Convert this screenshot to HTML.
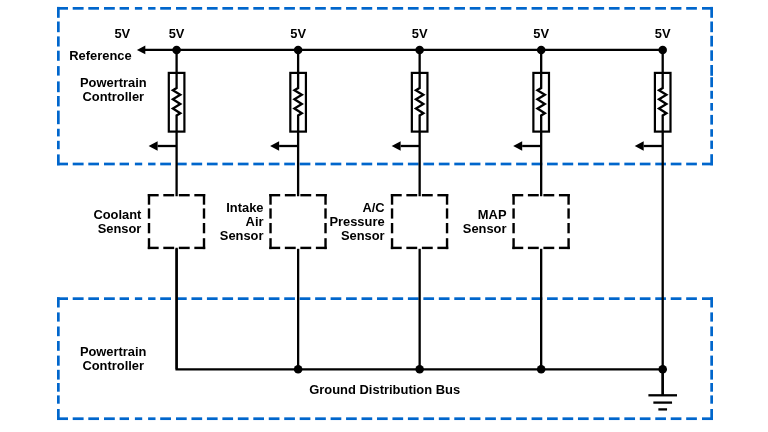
<!DOCTYPE html>
<html><head><meta charset="utf-8"><style>
html,body{margin:0;padding:0;background:#fff;width:768px;height:432px;overflow:hidden;position:relative}
</style></head><body>
<svg width="768" height="432" viewBox="0 0 768 432" style="position:absolute;left:0;top:0;will-change:transform;-webkit-font-smoothing:antialiased">
<rect width="768" height="432" fill="#fff"/>
<rect x="57.00" y="7.00" width="11.00" height="2.7" fill="#0066CC"/>
<rect x="72.70" y="7.00" width="10.90" height="2.7" fill="#0066CC"/>
<rect x="88.30" y="7.00" width="10.70" height="2.7" fill="#0066CC"/>
<rect x="104.00" y="7.00" width="10.80" height="2.7" fill="#0066CC"/>
<rect x="119.60" y="7.00" width="9.40" height="2.7" fill="#0066CC"/>
<rect x="134.90" y="7.00" width="7.30" height="2.7" fill="#0066CC"/>
<rect x="148.10" y="7.00" width="7.40" height="2.7" fill="#0066CC"/>
<rect x="160.20" y="7.00" width="10.80" height="2.7" fill="#0066CC"/>
<rect x="176.00" y="7.00" width="10.70" height="2.7" fill="#0066CC"/>
<rect x="191.46" y="7.00" width="10.70" height="2.7" fill="#0066CC"/>
<rect x="206.92" y="7.00" width="10.70" height="2.7" fill="#0066CC"/>
<rect x="222.38" y="7.00" width="10.70" height="2.7" fill="#0066CC"/>
<rect x="237.84" y="7.00" width="10.70" height="2.7" fill="#0066CC"/>
<rect x="253.30" y="7.00" width="10.70" height="2.7" fill="#0066CC"/>
<rect x="268.76" y="7.00" width="10.70" height="2.7" fill="#0066CC"/>
<rect x="284.22" y="7.00" width="10.70" height="2.7" fill="#0066CC"/>
<rect x="299.68" y="7.00" width="10.70" height="2.7" fill="#0066CC"/>
<rect x="315.14" y="7.00" width="10.70" height="2.7" fill="#0066CC"/>
<rect x="330.60" y="7.00" width="10.70" height="2.7" fill="#0066CC"/>
<rect x="346.06" y="7.00" width="10.70" height="2.7" fill="#0066CC"/>
<rect x="361.52" y="7.00" width="10.70" height="2.7" fill="#0066CC"/>
<rect x="376.98" y="7.00" width="10.70" height="2.7" fill="#0066CC"/>
<rect x="392.44" y="7.00" width="10.70" height="2.7" fill="#0066CC"/>
<rect x="407.90" y="7.00" width="10.70" height="2.7" fill="#0066CC"/>
<rect x="423.36" y="7.00" width="10.70" height="2.7" fill="#0066CC"/>
<rect x="438.82" y="7.00" width="10.70" height="2.7" fill="#0066CC"/>
<rect x="454.28" y="7.00" width="10.70" height="2.7" fill="#0066CC"/>
<rect x="469.74" y="7.00" width="10.70" height="2.7" fill="#0066CC"/>
<rect x="485.20" y="7.00" width="10.70" height="2.7" fill="#0066CC"/>
<rect x="500.66" y="7.00" width="10.70" height="2.7" fill="#0066CC"/>
<rect x="516.12" y="7.00" width="10.70" height="2.7" fill="#0066CC"/>
<rect x="531.58" y="7.00" width="10.70" height="2.7" fill="#0066CC"/>
<rect x="547.04" y="7.00" width="10.70" height="2.7" fill="#0066CC"/>
<rect x="562.50" y="7.00" width="10.70" height="2.7" fill="#0066CC"/>
<rect x="577.96" y="7.00" width="10.70" height="2.7" fill="#0066CC"/>
<rect x="593.42" y="7.00" width="10.70" height="2.7" fill="#0066CC"/>
<rect x="608.88" y="7.00" width="10.70" height="2.7" fill="#0066CC"/>
<rect x="624.34" y="7.00" width="10.70" height="2.7" fill="#0066CC"/>
<rect x="639.80" y="7.00" width="10.70" height="2.7" fill="#0066CC"/>
<rect x="655.26" y="7.00" width="10.70" height="2.7" fill="#0066CC"/>
<rect x="670.72" y="7.00" width="10.70" height="2.7" fill="#0066CC"/>
<rect x="686.18" y="7.00" width="10.70" height="2.7" fill="#0066CC"/>
<rect x="702.00" y="7.00" width="11.00" height="2.7" fill="#0066CC"/>
<rect x="57.00" y="162.65" width="11.00" height="2.7" fill="#0066CC"/>
<rect x="72.70" y="162.65" width="10.90" height="2.7" fill="#0066CC"/>
<rect x="88.30" y="162.65" width="10.70" height="2.7" fill="#0066CC"/>
<rect x="104.00" y="162.65" width="10.80" height="2.7" fill="#0066CC"/>
<rect x="119.60" y="162.65" width="9.40" height="2.7" fill="#0066CC"/>
<rect x="134.90" y="162.65" width="7.30" height="2.7" fill="#0066CC"/>
<rect x="148.10" y="162.65" width="7.40" height="2.7" fill="#0066CC"/>
<rect x="160.20" y="162.65" width="10.80" height="2.7" fill="#0066CC"/>
<rect x="176.00" y="162.65" width="10.70" height="2.7" fill="#0066CC"/>
<rect x="191.46" y="162.65" width="10.70" height="2.7" fill="#0066CC"/>
<rect x="206.92" y="162.65" width="10.70" height="2.7" fill="#0066CC"/>
<rect x="222.38" y="162.65" width="10.70" height="2.7" fill="#0066CC"/>
<rect x="237.84" y="162.65" width="10.70" height="2.7" fill="#0066CC"/>
<rect x="253.30" y="162.65" width="10.70" height="2.7" fill="#0066CC"/>
<rect x="268.76" y="162.65" width="10.70" height="2.7" fill="#0066CC"/>
<rect x="284.22" y="162.65" width="10.70" height="2.7" fill="#0066CC"/>
<rect x="299.68" y="162.65" width="10.70" height="2.7" fill="#0066CC"/>
<rect x="315.14" y="162.65" width="10.70" height="2.7" fill="#0066CC"/>
<rect x="330.60" y="162.65" width="10.70" height="2.7" fill="#0066CC"/>
<rect x="346.06" y="162.65" width="10.70" height="2.7" fill="#0066CC"/>
<rect x="361.52" y="162.65" width="10.70" height="2.7" fill="#0066CC"/>
<rect x="376.98" y="162.65" width="10.70" height="2.7" fill="#0066CC"/>
<rect x="392.44" y="162.65" width="10.70" height="2.7" fill="#0066CC"/>
<rect x="407.90" y="162.65" width="10.70" height="2.7" fill="#0066CC"/>
<rect x="423.36" y="162.65" width="10.70" height="2.7" fill="#0066CC"/>
<rect x="438.82" y="162.65" width="10.70" height="2.7" fill="#0066CC"/>
<rect x="454.28" y="162.65" width="10.70" height="2.7" fill="#0066CC"/>
<rect x="469.74" y="162.65" width="10.70" height="2.7" fill="#0066CC"/>
<rect x="485.20" y="162.65" width="10.70" height="2.7" fill="#0066CC"/>
<rect x="500.66" y="162.65" width="10.70" height="2.7" fill="#0066CC"/>
<rect x="516.12" y="162.65" width="10.70" height="2.7" fill="#0066CC"/>
<rect x="531.58" y="162.65" width="10.70" height="2.7" fill="#0066CC"/>
<rect x="547.04" y="162.65" width="10.70" height="2.7" fill="#0066CC"/>
<rect x="562.50" y="162.65" width="10.70" height="2.7" fill="#0066CC"/>
<rect x="577.96" y="162.65" width="10.70" height="2.7" fill="#0066CC"/>
<rect x="593.42" y="162.65" width="10.70" height="2.7" fill="#0066CC"/>
<rect x="608.88" y="162.65" width="10.70" height="2.7" fill="#0066CC"/>
<rect x="624.34" y="162.65" width="10.70" height="2.7" fill="#0066CC"/>
<rect x="639.80" y="162.65" width="10.70" height="2.7" fill="#0066CC"/>
<rect x="655.26" y="162.65" width="10.70" height="2.7" fill="#0066CC"/>
<rect x="670.72" y="162.65" width="10.70" height="2.7" fill="#0066CC"/>
<rect x="686.18" y="162.65" width="10.70" height="2.7" fill="#0066CC"/>
<rect x="702.00" y="162.65" width="11.00" height="2.7" fill="#0066CC"/>
<rect x="57.00" y="6.90" width="2.7" height="10.90" fill="#0066CC"/>
<rect x="57.00" y="21.50" width="2.7" height="10.70" fill="#0066CC"/>
<rect x="57.00" y="36.40" width="2.7" height="10.10" fill="#0066CC"/>
<rect x="57.00" y="50.70" width="2.7" height="10.10" fill="#0066CC"/>
<rect x="57.00" y="66.10" width="2.7" height="9.50" fill="#0066CC"/>
<rect x="57.00" y="81.40" width="2.7" height="10.80" fill="#0066CC"/>
<rect x="57.00" y="96.00" width="2.7" height="10.40" fill="#0066CC"/>
<rect x="57.00" y="110.60" width="2.7" height="13.60" fill="#0066CC"/>
<rect x="57.00" y="128.75" width="2.7" height="7.65" fill="#0066CC"/>
<rect x="57.00" y="140.80" width="2.7" height="8.40" fill="#0066CC"/>
<rect x="57.00" y="154.40" width="2.7" height="10.90" fill="#0066CC"/>
<rect x="710.30" y="6.90" width="2.7" height="10.90" fill="#0066CC"/>
<rect x="710.30" y="21.50" width="2.7" height="10.70" fill="#0066CC"/>
<rect x="710.30" y="35.80" width="2.7" height="10.70" fill="#0066CC"/>
<rect x="710.30" y="50.30" width="2.7" height="10.50" fill="#0066CC"/>
<rect x="710.30" y="65.00" width="2.7" height="10.80" fill="#0066CC"/>
<rect x="710.30" y="77.20" width="2.7" height="10.00" fill="#0066CC"/>
<rect x="710.30" y="90.80" width="2.7" height="7.95" fill="#0066CC"/>
<rect x="710.30" y="103.00" width="2.7" height="7.60" fill="#0066CC"/>
<rect x="710.30" y="114.90" width="2.7" height="9.70" fill="#0066CC"/>
<rect x="710.30" y="129.20" width="2.7" height="7.50" fill="#0066CC"/>
<rect x="710.30" y="140.60" width="2.7" height="8.30" fill="#0066CC"/>
<rect x="710.30" y="154.20" width="2.7" height="11.10" fill="#0066CC"/>
<rect x="57.00" y="297.30" width="11.00" height="2.7" fill="#0066CC"/>
<rect x="72.70" y="297.30" width="10.90" height="2.7" fill="#0066CC"/>
<rect x="88.30" y="297.30" width="10.70" height="2.7" fill="#0066CC"/>
<rect x="104.00" y="297.30" width="10.80" height="2.7" fill="#0066CC"/>
<rect x="119.60" y="297.30" width="9.40" height="2.7" fill="#0066CC"/>
<rect x="134.90" y="297.30" width="7.30" height="2.7" fill="#0066CC"/>
<rect x="148.10" y="297.30" width="7.40" height="2.7" fill="#0066CC"/>
<rect x="160.20" y="297.30" width="10.80" height="2.7" fill="#0066CC"/>
<rect x="176.00" y="297.30" width="10.70" height="2.7" fill="#0066CC"/>
<rect x="191.46" y="297.30" width="10.70" height="2.7" fill="#0066CC"/>
<rect x="206.92" y="297.30" width="10.70" height="2.7" fill="#0066CC"/>
<rect x="222.38" y="297.30" width="10.70" height="2.7" fill="#0066CC"/>
<rect x="237.84" y="297.30" width="10.70" height="2.7" fill="#0066CC"/>
<rect x="253.30" y="297.30" width="10.70" height="2.7" fill="#0066CC"/>
<rect x="268.76" y="297.30" width="10.70" height="2.7" fill="#0066CC"/>
<rect x="284.22" y="297.30" width="10.70" height="2.7" fill="#0066CC"/>
<rect x="299.68" y="297.30" width="10.70" height="2.7" fill="#0066CC"/>
<rect x="315.14" y="297.30" width="10.70" height="2.7" fill="#0066CC"/>
<rect x="330.60" y="297.30" width="10.70" height="2.7" fill="#0066CC"/>
<rect x="346.06" y="297.30" width="10.70" height="2.7" fill="#0066CC"/>
<rect x="361.52" y="297.30" width="10.70" height="2.7" fill="#0066CC"/>
<rect x="376.98" y="297.30" width="10.70" height="2.7" fill="#0066CC"/>
<rect x="392.44" y="297.30" width="10.70" height="2.7" fill="#0066CC"/>
<rect x="407.90" y="297.30" width="10.70" height="2.7" fill="#0066CC"/>
<rect x="423.36" y="297.30" width="10.70" height="2.7" fill="#0066CC"/>
<rect x="438.82" y="297.30" width="10.70" height="2.7" fill="#0066CC"/>
<rect x="454.28" y="297.30" width="10.70" height="2.7" fill="#0066CC"/>
<rect x="469.74" y="297.30" width="10.70" height="2.7" fill="#0066CC"/>
<rect x="485.20" y="297.30" width="10.70" height="2.7" fill="#0066CC"/>
<rect x="500.66" y="297.30" width="10.70" height="2.7" fill="#0066CC"/>
<rect x="516.12" y="297.30" width="10.70" height="2.7" fill="#0066CC"/>
<rect x="531.58" y="297.30" width="10.70" height="2.7" fill="#0066CC"/>
<rect x="547.04" y="297.30" width="10.70" height="2.7" fill="#0066CC"/>
<rect x="562.50" y="297.30" width="10.70" height="2.7" fill="#0066CC"/>
<rect x="577.96" y="297.30" width="10.70" height="2.7" fill="#0066CC"/>
<rect x="593.42" y="297.30" width="10.70" height="2.7" fill="#0066CC"/>
<rect x="608.88" y="297.30" width="10.70" height="2.7" fill="#0066CC"/>
<rect x="624.34" y="297.30" width="10.70" height="2.7" fill="#0066CC"/>
<rect x="639.80" y="297.30" width="10.70" height="2.7" fill="#0066CC"/>
<rect x="655.26" y="297.30" width="10.70" height="2.7" fill="#0066CC"/>
<rect x="670.72" y="297.30" width="10.70" height="2.7" fill="#0066CC"/>
<rect x="686.18" y="297.30" width="10.70" height="2.7" fill="#0066CC"/>
<rect x="702.00" y="297.30" width="11.00" height="2.7" fill="#0066CC"/>
<rect x="57.00" y="417.35" width="11.00" height="2.7" fill="#0066CC"/>
<rect x="72.70" y="417.35" width="10.90" height="2.7" fill="#0066CC"/>
<rect x="88.30" y="417.35" width="10.70" height="2.7" fill="#0066CC"/>
<rect x="104.00" y="417.35" width="10.80" height="2.7" fill="#0066CC"/>
<rect x="119.60" y="417.35" width="9.40" height="2.7" fill="#0066CC"/>
<rect x="134.90" y="417.35" width="7.30" height="2.7" fill="#0066CC"/>
<rect x="148.10" y="417.35" width="7.40" height="2.7" fill="#0066CC"/>
<rect x="160.20" y="417.35" width="10.80" height="2.7" fill="#0066CC"/>
<rect x="176.00" y="417.35" width="10.70" height="2.7" fill="#0066CC"/>
<rect x="191.46" y="417.35" width="10.70" height="2.7" fill="#0066CC"/>
<rect x="206.92" y="417.35" width="10.70" height="2.7" fill="#0066CC"/>
<rect x="222.38" y="417.35" width="10.70" height="2.7" fill="#0066CC"/>
<rect x="237.84" y="417.35" width="10.70" height="2.7" fill="#0066CC"/>
<rect x="253.30" y="417.35" width="10.70" height="2.7" fill="#0066CC"/>
<rect x="268.76" y="417.35" width="10.70" height="2.7" fill="#0066CC"/>
<rect x="284.22" y="417.35" width="10.70" height="2.7" fill="#0066CC"/>
<rect x="299.68" y="417.35" width="10.70" height="2.7" fill="#0066CC"/>
<rect x="315.14" y="417.35" width="10.70" height="2.7" fill="#0066CC"/>
<rect x="330.60" y="417.35" width="10.70" height="2.7" fill="#0066CC"/>
<rect x="346.06" y="417.35" width="10.70" height="2.7" fill="#0066CC"/>
<rect x="361.52" y="417.35" width="10.70" height="2.7" fill="#0066CC"/>
<rect x="376.98" y="417.35" width="10.70" height="2.7" fill="#0066CC"/>
<rect x="392.44" y="417.35" width="10.70" height="2.7" fill="#0066CC"/>
<rect x="407.90" y="417.35" width="10.70" height="2.7" fill="#0066CC"/>
<rect x="423.36" y="417.35" width="10.70" height="2.7" fill="#0066CC"/>
<rect x="438.82" y="417.35" width="10.70" height="2.7" fill="#0066CC"/>
<rect x="454.28" y="417.35" width="10.70" height="2.7" fill="#0066CC"/>
<rect x="469.74" y="417.35" width="10.70" height="2.7" fill="#0066CC"/>
<rect x="485.20" y="417.35" width="10.70" height="2.7" fill="#0066CC"/>
<rect x="500.66" y="417.35" width="10.70" height="2.7" fill="#0066CC"/>
<rect x="516.12" y="417.35" width="10.70" height="2.7" fill="#0066CC"/>
<rect x="531.58" y="417.35" width="10.70" height="2.7" fill="#0066CC"/>
<rect x="547.04" y="417.35" width="10.70" height="2.7" fill="#0066CC"/>
<rect x="562.50" y="417.35" width="10.70" height="2.7" fill="#0066CC"/>
<rect x="577.96" y="417.35" width="10.70" height="2.7" fill="#0066CC"/>
<rect x="593.42" y="417.35" width="10.70" height="2.7" fill="#0066CC"/>
<rect x="608.88" y="417.35" width="10.70" height="2.7" fill="#0066CC"/>
<rect x="624.34" y="417.35" width="10.70" height="2.7" fill="#0066CC"/>
<rect x="639.80" y="417.35" width="10.70" height="2.7" fill="#0066CC"/>
<rect x="655.26" y="417.35" width="10.70" height="2.7" fill="#0066CC"/>
<rect x="670.72" y="417.35" width="10.70" height="2.7" fill="#0066CC"/>
<rect x="686.18" y="417.35" width="10.70" height="2.7" fill="#0066CC"/>
<rect x="702.00" y="417.35" width="11.00" height="2.7" fill="#0066CC"/>
<rect x="57.00" y="297.30" width="2.7" height="10.20" fill="#0066CC"/>
<rect x="57.00" y="312.40" width="2.7" height="9.20" fill="#0066CC"/>
<rect x="57.00" y="326.50" width="2.7" height="9.70" fill="#0066CC"/>
<rect x="57.00" y="341.00" width="2.7" height="9.80" fill="#0066CC"/>
<rect x="57.00" y="355.60" width="2.7" height="10.10" fill="#0066CC"/>
<rect x="57.00" y="369.80" width="2.7" height="9.80" fill="#0066CC"/>
<rect x="57.00" y="383.00" width="2.7" height="8.70" fill="#0066CC"/>
<rect x="57.00" y="395.40" width="2.7" height="8.30" fill="#0066CC"/>
<rect x="57.00" y="409.00" width="2.7" height="11.00" fill="#0066CC"/>
<rect x="710.30" y="297.30" width="2.7" height="10.20" fill="#0066CC"/>
<rect x="710.30" y="312.40" width="2.7" height="9.20" fill="#0066CC"/>
<rect x="710.30" y="326.50" width="2.7" height="9.70" fill="#0066CC"/>
<rect x="710.30" y="341.00" width="2.7" height="9.80" fill="#0066CC"/>
<rect x="710.30" y="355.60" width="2.7" height="10.10" fill="#0066CC"/>
<rect x="710.30" y="369.80" width="2.7" height="9.80" fill="#0066CC"/>
<rect x="710.30" y="383.00" width="2.7" height="8.70" fill="#0066CC"/>
<rect x="710.30" y="395.40" width="2.7" height="8.30" fill="#0066CC"/>
<rect x="710.30" y="409.00" width="2.7" height="11.00" fill="#0066CC"/>
<line x1="145" y1="49.9" x2="662.7" y2="49.9" stroke="#000" stroke-width="2.3"/>
<polygon points="136.9,49.9 145.3,45.6 145.3,54.199999999999996" fill="#000"/>
<path d="M176.6,248.8 V369.3 H662.7" fill="none" stroke="#000" stroke-width="2.3" stroke-linejoin="miter" stroke-linecap="square"/>
<circle cx="176.6" cy="49.9" r="4.25" fill="#000"/>
<rect x="168.80" y="72.9" width="15.6" height="58.7" fill="none" stroke="#000" stroke-width="2.2"/>
<path d="M176.6,49.9 L176.60,88.00 L172.90,90.20 L180.30,94.70 L172.90,99.30 L180.30,104.00 L172.90,108.60 L180.30,113.20 L176.60,115.40 L176.6,196.2" fill="none" stroke="#000" stroke-width="2.3" stroke-linejoin="miter"/>
<line x1="157.6" y1="146.0" x2="176.6" y2="146.0" stroke="#000" stroke-width="2.3"/>
<polygon points="148.60,146.0 157.60,141.3 157.60,150.7" fill="#000"/>
<rect x="147.80" y="194.00" width="10.86" height="2.4" fill="#000"/>
<rect x="163.31" y="194.00" width="10.86" height="2.4" fill="#000"/>
<rect x="178.83" y="194.00" width="10.86" height="2.4" fill="#000"/>
<rect x="194.34" y="194.00" width="10.86" height="2.4" fill="#000"/>
<rect x="147.80" y="246.70" width="10.86" height="2.4" fill="#000"/>
<rect x="163.31" y="246.70" width="10.86" height="2.4" fill="#000"/>
<rect x="178.83" y="246.70" width="10.86" height="2.4" fill="#000"/>
<rect x="194.34" y="246.70" width="10.86" height="2.4" fill="#000"/>
<rect x="147.80" y="194.00" width="2.4" height="10.70" fill="#000"/>
<rect x="147.80" y="208.40" width="2.4" height="10.20" fill="#000"/>
<rect x="147.80" y="223.00" width="2.4" height="10.30" fill="#000"/>
<rect x="147.80" y="238.20" width="2.4" height="10.90" fill="#000"/>
<rect x="202.80" y="194.00" width="2.4" height="10.70" fill="#000"/>
<rect x="202.80" y="208.40" width="2.4" height="10.20" fill="#000"/>
<rect x="202.80" y="223.00" width="2.4" height="10.30" fill="#000"/>
<rect x="202.80" y="238.20" width="2.4" height="10.90" fill="#000"/>
<line x1="176.6" y1="248.8" x2="176.6" y2="369.3" stroke="#000" stroke-width="2.3"/>
<circle cx="298.125" cy="49.9" r="4.25" fill="#000"/>
<rect x="290.32" y="72.9" width="15.6" height="58.7" fill="none" stroke="#000" stroke-width="2.2"/>
<path d="M298.125,49.9 L298.12,88.00 L294.43,90.20 L301.82,94.70 L294.43,99.30 L301.82,104.00 L294.43,108.60 L301.82,113.20 L298.12,115.40 L298.125,196.2" fill="none" stroke="#000" stroke-width="2.3" stroke-linejoin="miter"/>
<line x1="279.125" y1="146.0" x2="298.125" y2="146.0" stroke="#000" stroke-width="2.3"/>
<polygon points="270.12,146.0 279.12,141.3 279.12,150.7" fill="#000"/>
<rect x="269.32" y="194.00" width="10.86" height="2.4" fill="#000"/>
<rect x="284.84" y="194.00" width="10.86" height="2.4" fill="#000"/>
<rect x="300.35" y="194.00" width="10.86" height="2.4" fill="#000"/>
<rect x="315.87" y="194.00" width="10.86" height="2.4" fill="#000"/>
<rect x="269.32" y="246.70" width="10.86" height="2.4" fill="#000"/>
<rect x="284.84" y="246.70" width="10.86" height="2.4" fill="#000"/>
<rect x="300.35" y="246.70" width="10.86" height="2.4" fill="#000"/>
<rect x="315.87" y="246.70" width="10.86" height="2.4" fill="#000"/>
<rect x="269.32" y="194.00" width="2.4" height="10.70" fill="#000"/>
<rect x="269.32" y="208.40" width="2.4" height="10.20" fill="#000"/>
<rect x="269.32" y="223.00" width="2.4" height="10.30" fill="#000"/>
<rect x="269.32" y="238.20" width="2.4" height="10.90" fill="#000"/>
<rect x="324.32" y="194.00" width="2.4" height="10.70" fill="#000"/>
<rect x="324.32" y="208.40" width="2.4" height="10.20" fill="#000"/>
<rect x="324.32" y="223.00" width="2.4" height="10.30" fill="#000"/>
<rect x="324.32" y="238.20" width="2.4" height="10.90" fill="#000"/>
<line x1="298.125" y1="248.8" x2="298.125" y2="369.3" stroke="#000" stroke-width="2.3"/>
<circle cx="298.125" cy="369.3" r="4.3" fill="#000"/>
<circle cx="419.65" cy="49.9" r="4.25" fill="#000"/>
<rect x="411.85" y="72.9" width="15.6" height="58.7" fill="none" stroke="#000" stroke-width="2.2"/>
<path d="M419.65,49.9 L419.65,88.00 L415.95,90.20 L423.35,94.70 L415.95,99.30 L423.35,104.00 L415.95,108.60 L423.35,113.20 L419.65,115.40 L419.65,196.2" fill="none" stroke="#000" stroke-width="2.3" stroke-linejoin="miter"/>
<line x1="400.65" y1="146.0" x2="419.65" y2="146.0" stroke="#000" stroke-width="2.3"/>
<polygon points="391.65,146.0 400.65,141.3 400.65,150.7" fill="#000"/>
<rect x="390.85" y="194.00" width="10.86" height="2.4" fill="#000"/>
<rect x="406.36" y="194.00" width="10.86" height="2.4" fill="#000"/>
<rect x="421.88" y="194.00" width="10.86" height="2.4" fill="#000"/>
<rect x="437.39" y="194.00" width="10.86" height="2.4" fill="#000"/>
<rect x="390.85" y="246.70" width="10.86" height="2.4" fill="#000"/>
<rect x="406.36" y="246.70" width="10.86" height="2.4" fill="#000"/>
<rect x="421.88" y="246.70" width="10.86" height="2.4" fill="#000"/>
<rect x="437.39" y="246.70" width="10.86" height="2.4" fill="#000"/>
<rect x="390.85" y="194.00" width="2.4" height="10.70" fill="#000"/>
<rect x="390.85" y="208.40" width="2.4" height="10.20" fill="#000"/>
<rect x="390.85" y="223.00" width="2.4" height="10.30" fill="#000"/>
<rect x="390.85" y="238.20" width="2.4" height="10.90" fill="#000"/>
<rect x="445.85" y="194.00" width="2.4" height="10.70" fill="#000"/>
<rect x="445.85" y="208.40" width="2.4" height="10.20" fill="#000"/>
<rect x="445.85" y="223.00" width="2.4" height="10.30" fill="#000"/>
<rect x="445.85" y="238.20" width="2.4" height="10.90" fill="#000"/>
<line x1="419.65" y1="248.8" x2="419.65" y2="369.3" stroke="#000" stroke-width="2.3"/>
<circle cx="419.65" cy="369.3" r="4.3" fill="#000"/>
<circle cx="541.1750000000001" cy="49.9" r="4.25" fill="#000"/>
<rect x="533.38" y="72.9" width="15.6" height="58.7" fill="none" stroke="#000" stroke-width="2.2"/>
<path d="M541.1750000000001,49.9 L541.18,88.00 L537.48,90.20 L544.88,94.70 L537.48,99.30 L544.88,104.00 L537.48,108.60 L544.88,113.20 L541.18,115.40 L541.1750000000001,196.2" fill="none" stroke="#000" stroke-width="2.3" stroke-linejoin="miter"/>
<line x1="522.1750000000001" y1="146.0" x2="541.1750000000001" y2="146.0" stroke="#000" stroke-width="2.3"/>
<polygon points="513.18,146.0 522.18,141.3 522.18,150.7" fill="#000"/>
<rect x="512.38" y="194.00" width="10.86" height="2.4" fill="#000"/>
<rect x="527.89" y="194.00" width="10.86" height="2.4" fill="#000"/>
<rect x="543.40" y="194.00" width="10.86" height="2.4" fill="#000"/>
<rect x="558.92" y="194.00" width="10.86" height="2.4" fill="#000"/>
<rect x="512.38" y="246.70" width="10.86" height="2.4" fill="#000"/>
<rect x="527.89" y="246.70" width="10.86" height="2.4" fill="#000"/>
<rect x="543.40" y="246.70" width="10.86" height="2.4" fill="#000"/>
<rect x="558.92" y="246.70" width="10.86" height="2.4" fill="#000"/>
<rect x="512.38" y="194.00" width="2.4" height="10.70" fill="#000"/>
<rect x="512.38" y="208.40" width="2.4" height="10.20" fill="#000"/>
<rect x="512.38" y="223.00" width="2.4" height="10.30" fill="#000"/>
<rect x="512.38" y="238.20" width="2.4" height="10.90" fill="#000"/>
<rect x="567.38" y="194.00" width="2.4" height="10.70" fill="#000"/>
<rect x="567.38" y="208.40" width="2.4" height="10.20" fill="#000"/>
<rect x="567.38" y="223.00" width="2.4" height="10.30" fill="#000"/>
<rect x="567.38" y="238.20" width="2.4" height="10.90" fill="#000"/>
<line x1="541.1750000000001" y1="248.8" x2="541.1750000000001" y2="369.3" stroke="#000" stroke-width="2.3"/>
<circle cx="541.1750000000001" cy="369.3" r="4.3" fill="#000"/>
<circle cx="662.7" cy="49.9" r="4.25" fill="#000"/>
<rect x="654.90" y="72.9" width="15.6" height="58.7" fill="none" stroke="#000" stroke-width="2.2"/>
<path d="M662.7,49.9 L662.70,88.00 L659.00,90.20 L666.40,94.70 L659.00,99.30 L666.40,104.00 L659.00,108.60 L666.40,113.20 L662.70,115.40 L662.7,395.3" fill="none" stroke="#000" stroke-width="2.3" stroke-linejoin="miter"/>
<line x1="643.7" y1="146.0" x2="662.7" y2="146.0" stroke="#000" stroke-width="2.3"/>
<polygon points="634.70,146.0 643.70,141.3 643.70,150.7" fill="#000"/>
<circle cx="662.7" cy="369.3" r="4.3" fill="#000"/>
<line x1="662.7" y1="369.3" x2="662.7" y2="395.3" stroke="#000" stroke-width="2.3"/>
<line x1="648.40" y1="395.3" x2="677.00" y2="395.3" stroke="#000" stroke-width="2.3"/>
<line x1="653.35" y1="402.6" x2="672.05" y2="402.6" stroke="#000" stroke-width="2.3"/>
<line x1="658.35" y1="409.4" x2="667.05" y2="409.4" stroke="#000" stroke-width="2.3"/>
<g font-family="Liberation Sans, sans-serif" font-weight="bold" font-size="12.9" fill="#000">
<text x="130.2" y="38" text-anchor="end">5V</text>
<text x="176.6" y="38" text-anchor="middle">5V</text>
<text x="298.125" y="38" text-anchor="middle">5V</text>
<text x="419.65" y="38" text-anchor="middle">5V</text>
<text x="541.1750000000001" y="38" text-anchor="middle">5V</text>
<text x="662.7" y="38" text-anchor="middle">5V</text>
<text x="131.6" y="60.1" text-anchor="end">Reference</text>
<text x="113.3" y="86.8" text-anchor="middle">Powertrain</text>
<text x="113.3" y="101.2" text-anchor="middle">Controller</text>
<text x="141.4" y="218.5" text-anchor="end">Coolant</text>
<text x="141.4" y="232.9" text-anchor="end">Sensor</text>
<text x="263.5" y="211.5" text-anchor="end">Intake</text>
<text x="263.5" y="225.6" text-anchor="end">Air</text>
<text x="263.5" y="239.7" text-anchor="end">Sensor</text>
<text x="384.6" y="211.5" text-anchor="end">A/C</text>
<text x="384.6" y="225.6" text-anchor="end">Pressure</text>
<text x="384.6" y="240.1" text-anchor="end">Sensor</text>
<text x="506.5" y="218.8" text-anchor="end">MAP</text>
<text x="506.5" y="233.2" text-anchor="end">Sensor</text>
<text x="113.2" y="355.5" text-anchor="middle">Powertrain</text>
<text x="113.2" y="369.9" text-anchor="middle">Controller</text>
<text x="384.7" y="393.7" text-anchor="middle" font-size="12.95">Ground Distribution Bus</text>
</g>
</svg>
</body></html>
